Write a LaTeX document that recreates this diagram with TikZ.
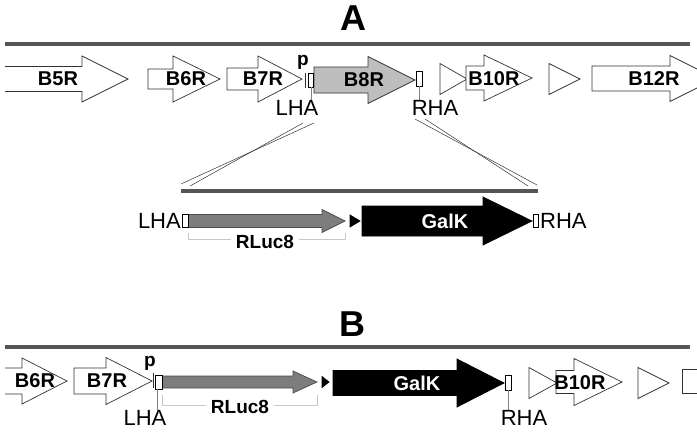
\documentclass[tikz,border=0pt]{standalone}
\usepackage{fontspec}
\setmainfont{Liberation Sans}
\definecolor{rule}{RGB}{85,85,85}
\definecolor{outl}{RGB}{50,50,50}
\definecolor{lightfill}{RGB}{190,190,190}
\definecolor{midfill}{RGB}{125,125,125}
\definecolor{brk}{RGB}{200,200,200}
\newcommand{\genearrow}[7][]{%
  \draw[genebox,#1] (#2,#5-#6) -- (#3,#5-#6) -- (#3,#5-#7) -- (#4,#5) -- (#3,#5+#7) -- (#3,#5+#6) -- (#2,#5+#6) -- cycle;}
\newcommand{\openarrow}[6]{%
  \fill[white] (#1,#4-#5) -- (#2,#4-#5) -- (#2,#4-#6) -- (#3,#4) -- (#2,#4+#6) -- (#2,#4+#5) -- (#1,#4+#5) -- cycle;
  \draw[genebox,fill=none] (#1,#4-#5) -- (#2,#4-#5) -- (#2,#4-#6) -- (#3,#4) -- (#2,#4+#6) -- (#2,#4+#5) -- (#1,#4+#5);}
\newcommand{\tri}[5][]{%
  \draw[genebox,#1] (#2,#4-#5) -- (#3,#4) -- (#2,#4+#5) -- cycle;}
\begin{document}
\begin{tikzpicture}[x=1pt,y=-1pt,
  genebox/.style={draw=outl,line width=0.7pt,fill=white,line join=miter},
  chrom/.style={draw=rule,line width=3.5pt},
  glabel/.style={font=\fontsize{20}{22}\selectfont\bfseries,inner sep=0pt},
  rlabel/.style={font=\fontsize{19}{21}\selectfont\bfseries,fill=white,inner xsep=5pt,inner ysep=1pt},
  plabel/.style={font=\fontsize{19}{20}\selectfont\bfseries,inner sep=0pt},
  hlabel/.style={font=\fontsize{22}{24}\selectfont,inner sep=0pt},
  title/.style={font=\fontsize{36}{38}\selectfont\bfseries,inner sep=0pt},
  hbox/.style={draw=black,line width=0.9pt,fill=white},
  thin/.style={draw=gray,line width=0.5pt},
  cross/.style={draw=black!80,line width=0.5pt},
  bracket/.style={draw=brk,line width=1pt}]
\useasboundingbox (0,0) rectangle (697,432);
\clip (0,0) rectangle (697,432);

% ===== Panel A =====
\node[title] (tA) at (353,18) {A};
\coordinate (lA1) at (5,44); \coordinate (lA2) at (690,44);
\draw[chrom] (lA1) -- (lA2);

\openarrow{5}{82}{128}{79}{12.5}{23}
\node[glabel] (b5r) at (58,79) {B5R};
\genearrow{148}{173}{220}{79}{10}{23}
\node[glabel] (b6r) at (186,79) {B6R};
\genearrow{227}{258}{302}{79}{11}{23}
\node[glabel] (b7r) at (263,79) {B7R};
\node[plabel] (pA) at (303,62) {p};
\draw[outl,line width=1pt] (305,73) -- (305,88);
\genearrow[fill=lightfill]{314}{368}{415}{80}{13}{23.5}
\node[glabel] (b8r) at (364,80) {B8R};
\draw[hbox] (308,73) rectangle (313,87);
\draw[hbox] (416,71) rectangle (422,86);
\node[hlabel] (lhaA) at (297,108) {LHA};
\node[hlabel] (rhaA) at (435,108) {RHA};
\draw[thin] (311,87) -- (lhaA.north -| 311,0);
\draw[thin] (419,86) -- (rhaA.north -| 419,0);
\tri{440}{467}{79}{15.5}
\genearrow{466}{484}{532}{78}{12}{23}
\node[glabel] (b10r) at (494,79) {B10R};
\tri{549}{580}{79}{15.5}
\genearrow{592}{670}{716}{78.5}{12.5}{23}
\node[glabel] (b12r) at (654,79) {B12R};

% crossing lines
\draw[cross] (303,123) -- (190,186);
\draw[cross] (314,123) -- (181,184);
\draw[cross] (415,119) -- (537,185);
\draw[cross] (425,119) -- (528,186);
\draw[chrom] (181,191) -- (538,191);

% insert
\genearrow[fill=midfill,draw=black!70]{188}{322}{345}{221}{6.5}{11.5}
\tri[fill=black,draw=black]{350}{360}{221}{6}
\genearrow[fill=black,draw=black]{362}{483}{532}{221}{15}{24}
\node[glabel,text=white] (galkA) at (445,221) {GalK};
\draw[hbox] (182,214) rectangle (188,227);
\draw[hbox] (533,214) rectangle (538,227);
\node[hlabel,anchor=east] (lhaA2) at (181,221) {LHA};
\node[hlabel,anchor=west] (rhaA2) at (540,221) {RHA};
\draw[bracket] (188,233) -- (188,239) -- (345,239) -- (345,233);
\node[rlabel] (rlA) at (265,242) {RLuc8};

% ===== Panel B =====
\node[title] (tB) at (352,324) {B};
\draw[chrom] (5,347) -- (690,347);

\openarrow{5}{22}{67}{381}{13}{23}
\node[glabel] (b6rB) at (35,381) {B6R};
\genearrow{74}{106}{152}{381}{13}{23.5}
\node[glabel] (b7rB) at (107,381) {B7R};
\node[plabel] (pB) at (150,363) {p};
\draw[outl,line width=1pt] (153,373) -- (153,388);
\genearrow[fill=midfill,draw=black!70]{162}{293}{317}{382}{6}{11}
\draw[hbox] (155,375) rectangle (162,389);
\tri[fill=black,draw=black]{322}{329}{382}{5.5}
\genearrow[fill=black,draw=black]{333}{457}{504}{383}{12.5}{24}
\node[glabel,text=white] (galkB) at (417,383) {GalK};
\draw[hbox] (505,375) rectangle (511,390);
\node[hlabel] (lhaB) at (145,418) {LHA};
\node[hlabel] (rhaB) at (524,418) {RHA};
\draw[thin] (157,389) -- (lhaB.north -| 157,0);
\draw[thin] (508,390) -- (rhaB.north -| 508,0);
\draw[bracket] (162,395) -- (162,405) -- (317,405) -- (317,395);
\node[rlabel] (rlB) at (240,407) {RLuc8};
\tri{529}{557}{383}{15.5}
\genearrow{556}{574}{622}{382}{11.5}{23.5}
\node[glabel] (b10rB) at (580,383) {B10R};
\tri{638}{669}{383}{15.5}
\draw[genebox] (682,369) rectangle (712,393);
\end{tikzpicture}
\end{document}
